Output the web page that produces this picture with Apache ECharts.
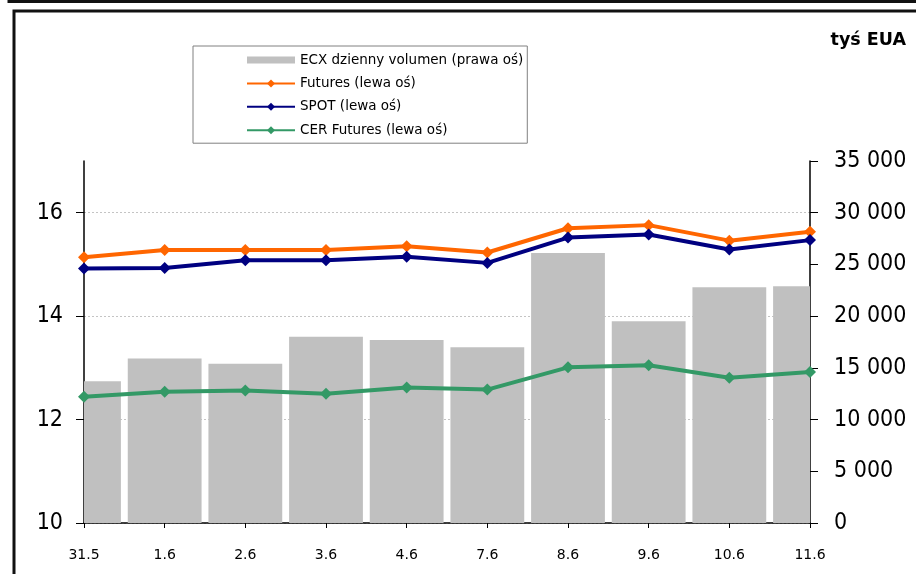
<!DOCTYPE html>
<html>
<head>
<meta charset="utf-8">
<script src="https://cdn.jsdelivr.net/npm/echarts@6/dist/echarts.min.js"></script>
<style>
  html, body { margin: 0; padding: 0; background: #fff; }
  #chart { width: 920px; height: 574px; }
</style>
</head>
<body>
<div id="chart"></div>
<script>
// daty notowań
const days = ['31.5', '1.6', '2.6', '3.6', '4.6', '7.6', '8.6', '9.6', '10.6', '11.6'];
// ECX dzienny volumen, tyś EUA (prawa oś)
const volume = [13700, 15900, 15400, 18000, 17700, 17000, 26100, 19500, 22800, 22900];
// ceny, lewa oś
const futures = [15.14, 15.28, 15.28, 15.28, 15.35, 15.23, 15.70, 15.76, 15.46, 15.63];
const spot = [14.92, 14.93, 15.08, 15.08, 15.15, 15.03, 15.52, 15.58, 15.29, 15.47];
const cerFutures = [12.44, 12.54, 12.56, 12.50, 12.62, 12.58, 13.01, 13.05, 12.81, 12.92];

const font = '"DejaVu Sans Condensed", "DejaVu Sans", sans-serif';
const fontWide = '"DejaVu Sans", sans-serif';

const chart = echarts.init(document.getElementById('chart'));

const lineSeries = (name, data, color) => ({
    name: name,
    type: 'line',
    yAxisIndex: 0,
    data: data,
    symbol: 'diamond',
    symbolSize: 12,
    lineStyle: { color: color, width: 4 },
    itemStyle: { color: color },
    z: 3
});

// słupki przycięte do obszaru wykresu (jak w Excelu, pierwszy i ostatni do połowy)
const renderBar = (params, api) => {
    const top = api.coord([api.value(0), api.value(1)]);
    const base = api.coord([api.value(0), 0]);
    const w = api.size([1, 0])[0] * 0.915;
    const cs = params.coordSys;
    const shape = echarts.graphic.clipRectByRect(
        { x: top[0] - w / 2, y: top[1], width: w, height: base[1] - top[1] },
        { x: cs.x, y: cs.y, width: cs.width, height: cs.height }
    );
    return shape && { type: 'rect', shape: shape, style: { fill: api.visual('color') } };
};

const option = {
    animation: false,
    textStyle: { fontFamily: font },
    grid: { left: 84, right: 110, top: 161, bottom: 51 },
    graphic: [
        { type: 'polyline', shape: { points: [[9, 0], [9, 1.5], [916, 1.5]] }, style: { stroke: '#111', lineWidth: 3, fill: null } },
        { type: 'polyline', shape: { points: [[14, 574], [14, 11], [916, 11]] }, style: { stroke: '#111', lineWidth: 3, fill: null } },
        {
            type: 'text', right: 14, top: 31,
            style: { text: 'tyś EUA', font: 'bold 17.5px ' + fontWide, fill: '#000' }
        }
    ],
    legend: {
        orient: 'vertical',
        left: 193,
        top: 46,
        padding: [7, 4, 6, 53],
        itemGap: 9.4,
        itemWidth: 48,
        itemHeight: 10,
        borderColor: '#808080',
        borderWidth: 1,
        textStyle: { fontFamily: fontWide, fontSize: 13.5, color: '#000' },
        lineStyle: { width: 2 },
        data: [
            { name: 'ECX dzienny volumen (prawa oś)', icon: 'path://M0,0M0,10M0,1.5h48v7h-48z' },
            'Futures (lewa oś)',
            'SPOT (lewa oś)',
            'CER Futures (lewa oś)'
        ]
    },
    xAxis: {
        type: 'category',
        data: days,
        boundaryGap: false,
        axisLine: { lineStyle: { color: '#000', width: 1.5 } },
        axisTick: { length: 5, lineStyle: { color: '#000' } },
        axisLabel: { color: '#000', fontSize: 14, fontFamily: fontWide, margin: 25 }
    },
    yAxis: [
        {
            type: 'value',
            min: 10,
            max: 17,
            interval: 2,
            axisLine: { show: true, lineStyle: { color: '#000', width: 1.5 } },
            axisTick: { show: true, length: 8, lineStyle: { color: '#000' } },
            axisLabel: { color: '#000', fontSize: 23, fontFamily: font, margin: 21, showMaxLabel: false },
            splitLine: { show: true, showMaxLine: false, lineStyle: { color: '#c4c4c4', type: [2, 2] } }
        },
        {
            type: 'value',
            min: 0,
            max: 35000,
            interval: 5000,
            position: 'right',
            axisLine: { show: true, lineStyle: { color: '#000', width: 1.5 } },
            axisTick: { show: true, length: 8, lineStyle: { color: '#000' } },
            axisLabel: {
                color: '#000', fontSize: 23, fontFamily: font, margin: 24,
                formatter: v => String(v).replace(/\B(?=(\d{3})+(?!\d))/g, ' ')
            },
            splitLine: { show: false }
        }
    ],
    series: [
        {
            name: 'ECX dzienny volumen (prawa oś)',
            type: 'custom',
            yAxisIndex: 1,
            data: volume.map((v, i) => [i, v]),
            encode: { x: 0, y: 1 },
            renderItem: renderBar,
            itemStyle: { color: '#c0c0c0' },
            z: 2
        },
        lineSeries('Futures (lewa oś)', futures, '#ff6600'),
        lineSeries('SPOT (lewa oś)', spot, '#000080'),
        lineSeries('CER Futures (lewa oś)', cerFutures, '#339966')
    ]
};

chart.setOption(option);
</script>
</body>
</html>
